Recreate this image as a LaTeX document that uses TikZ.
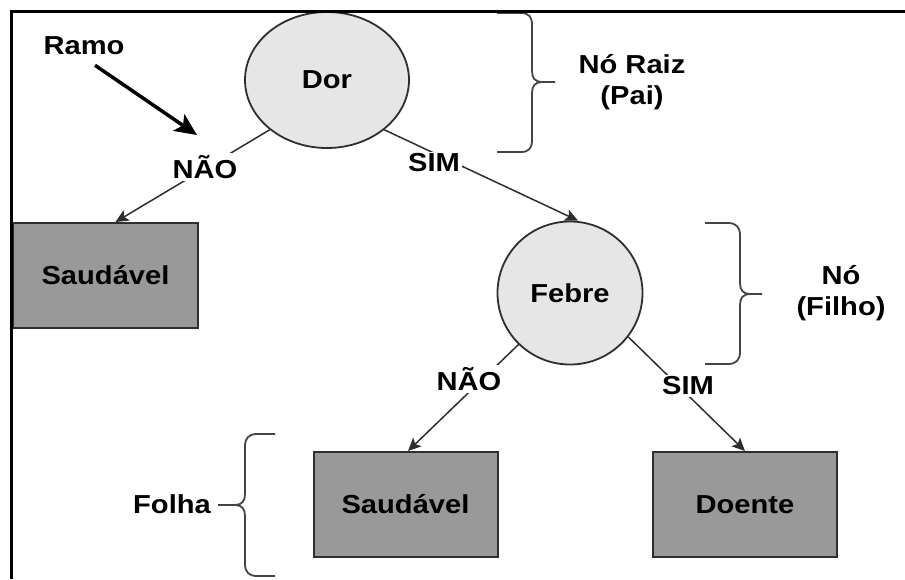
\documentclass[tikz,border=0pt]{standalone}
\usepackage{fontspec}
\setmainfont{Liberation Sans}[FakeStretch=1.12]
\usetikzlibrary{arrows.meta,calc,shapes.geometric}
\definecolor{ellfill}{HTML}{E6E6E6}
\definecolor{boxfill}{HTML}{999999}
\definecolor{edgecol}{HTML}{2E2E2E}
\definecolor{bracecol}{HTML}{444444}
\begin{document}
\begin{tikzpicture}[x=1pt,y=-1pt,
  every node/.style={font=\fontsize{26}{31}\selectfont\bfseries, text=black},
  ell/.style={ellipse, draw=edgecol, line width=1.8pt, fill=ellfill, inner sep=0pt},
  leaf/.style={rectangle, draw=edgecol, line width=2pt, fill=boxfill, inner sep=0pt, minimum width=184pt, minimum height=105pt},
  conn/.style={draw=edgecol, line width=1.5pt, -{Stealth[length=13pt,width=12pt,inset=3pt]}},
  lbl/.style={fill=white, inner sep=2pt},
  bracestyle/.style={draw=bracecol, line width=1.8pt},
  note/.style={align=center, inner sep=0pt}
]
\useasboundingbox (0,0) rectangle (905,579);
% tree nodes
\node[ell, minimum width=164pt, minimum height=136pt] (dor) at (327,80) {Dor};
\node[ell, minimum width=145pt, minimum height=143pt] (febre) at (570,293) {Febre};
\node[leaf, minimum width=185pt] (saud1) at (105.5,275.5) {Saudável};
\node[leaf] (saud2) at (405.5,504.5) {Saudável};
\node[leaf] (doente) at (745,504.5) {Doente};
% connectors
\draw[conn] (dor.221) -- ([xshift=10pt]saud1.north);
\draw[conn] (dor.319) -- ([xshift=8pt]febre.north);
\draw[conn] (febre.225) -- ([xshift=2.5pt]saud2.north);
\draw[conn] (febre.323) -- (doente.north);
% edge labels
\node[lbl] (l1) at (205,167) {NÃO};
\node[lbl] (l2) at (434,163) {SIM};
\node[lbl] (l3) at (469,379) {NÃO};
\node[lbl] (l4) at (688,386) {SIM};
% Ramo
\node[inner sep=0pt] (ramo) at (84,46) {Ramo};
\coordinate (ramotip) at (197,135);
\draw[line width=3.5pt, -{Stealth[length=22pt,width=20pt,inset=5pt]}] ([xshift=11pt,yshift=-10pt]ramo.south) -- (ramotip);
% braces
\draw[bracestyle] (497,13) -- (521,13) .. controls (529,13) and (532,17) .. (532,25) -- (532,71)
  .. controls (532,78) and (535,82) .. (542,82) -- (555,82);
\draw[bracestyle] (542,82) .. controls (535,82) and (532,86) .. (532,93) -- (532,140)
  .. controls (532,148) and (529,152) .. (521,152) -- (497,152);
\node[note] (raiz) at (632,82) {Nó Raiz\\(Pai)};
\draw[bracestyle] (705,223) -- (728,223) .. controls (736,223) and (740,227) .. (740,235) -- (740,283)
  .. controls (740,290) and (743,294) .. (750,294) -- (762,294);
\draw[bracestyle] (750,294) .. controls (743,294) and (740,298) .. (740,305) -- (740,352)
  .. controls (740,360) and (736,364) .. (728,364) -- (705,364);
\node[note] (filho) at (841,293) {Nó\\(Filho)};
\draw[bracestyle] (275,434) -- (257,434) .. controls (249,434) and (245,438) .. (245,446) -- (245,494)
  .. controls (245,501) and (242,505) .. (235,505) -- (218,505);
\draw[bracestyle] (235,505) .. controls (242,505) and (245,509) .. (245,516) -- (245,564)
  .. controls (245,572) and (249,576) .. (257,576) -- (275,576);
\node[inner sep=0pt] (folha) at (172,504) {Folha};
% frame
\draw[line width=3.5pt, black] (11.5,579) -- (11.5,11.5) -- (905,11.5);
\end{tikzpicture}
\end{document}
